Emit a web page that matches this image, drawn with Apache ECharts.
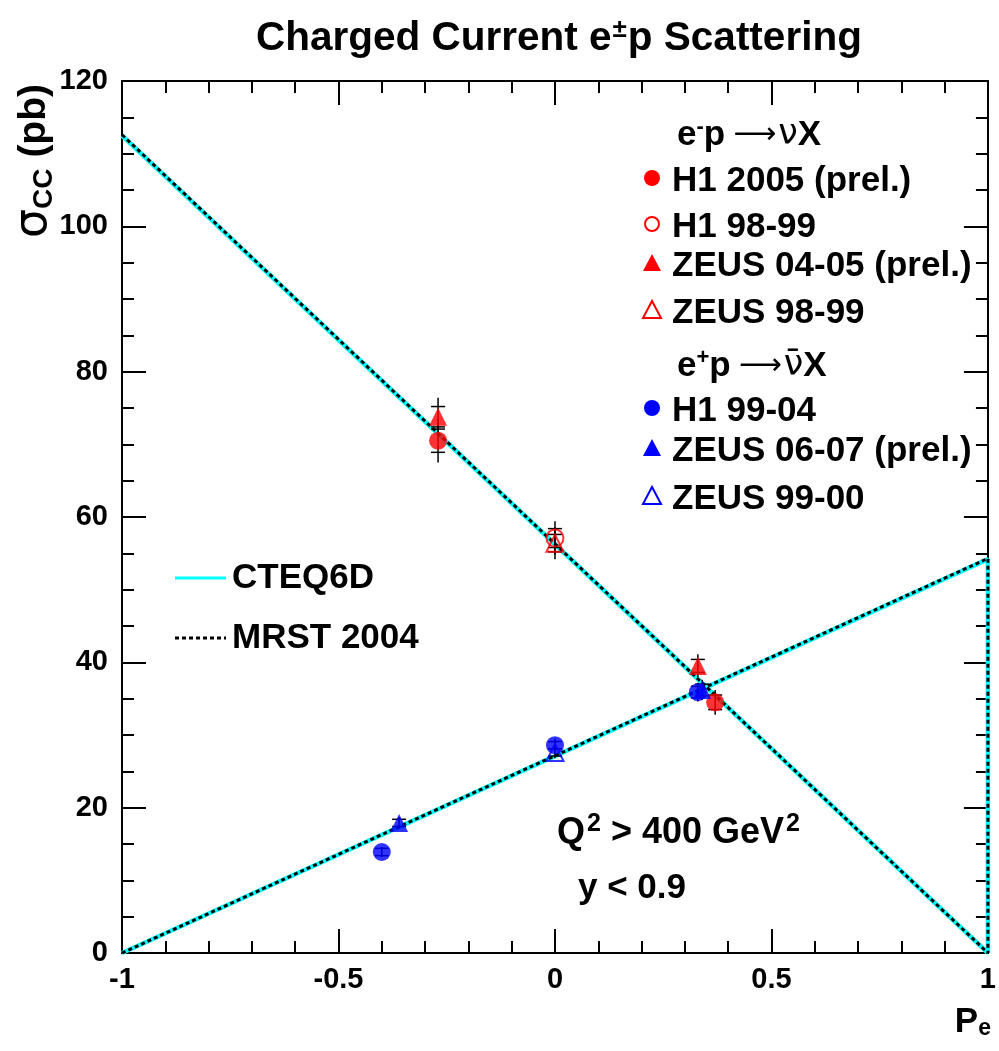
<!DOCTYPE html>
<html>
<head>
<meta charset="utf-8">
<script src="https://cdn.jsdelivr.net/npm/echarts@6/dist/echarts.min.js"></script>
<style>html,body{margin:0;padding:0;background:#fff}#c{width:999px;height:1051px}</style>
</head>
<body>
<div id="c"></div>
<script>
// ---- data ----
var xTicks = [-1, -0.5, 0, 0.5, 1];
var yTicks = [0, 20, 40, 60, 80, 100, 120];
// theory lines [Pe, sigma]
var cteqEm = [[-1, 112.5], [1, 0]];
var cteqEp = [[-1, 0], [1, 54.2], [1, 0]];
var mrstEm = [[-1, 112.6], [1, 0]];
var mrstEp = [[-1, 0], [1, 54.3], [1, 0]];
// measurements [Pe, sigma, totalErr, statErr]
var h1_2005   = [[-0.27, 70.5, 3.0, 1.6], [0.37, 34.5, 1.7, 1.0]];
var h1_9899   = [[0.0, 57.1, 2.3, 1.3]];
var zeus0405  = [[-0.27, 73.8, 2.6, 1.4], [0.33, 39.5, 1.6, 0.9]];
var zeus9899  = [[0.0, 56.4, 2.2, 1.2]];
var h1_9904   = [[-0.40, 13.9, 0.7, 0.5], [0.0, 28.6, 0.9, 0.5], [0.33, 35.9, 1.3, 0.8]];
var zeus0607  = [[-0.36, 17.9, 0.8, 0.5], [0.34, 36.2, 1.4, 0.8]];
var zeus9900  = [[0.0, 27.6, 0.8, 0.5]];

var FONT = 'Liberation Sans';
var RED = '#ff0000', BLUE = '#0000ff', CYAN = '#00ffff';

function errSeries(data) {
  return {
    type: 'custom', data: data, z: 3, silent: true,
    renderItem: function (p, api) {
      var x = api.value(0), y = api.value(1), e = api.value(2), s = api.value(3);
      var top = api.coord([x, y + e]), bot = api.coord([x, y - e]);
      var st = api.coord([x, y + s]), sb = api.coord([x, y - s]);
      var sty = {stroke: '#000', lineWidth: 1.5};
      return {type: 'group', children: [
        {type: 'line', shape: {x1: top[0], y1: top[1], x2: bot[0], y2: bot[1]}, style: sty},
        {type: 'line', shape: {x1: st[0] - 7, y1: st[1], x2: st[0] + 7, y2: st[1]}, style: sty},
        {type: 'line', shape: {x1: sb[0] - 7, y1: sb[1], x2: sb[0] + 7, y2: sb[1]}, style: sty}
      ]};
    }
  };
}
function pts(name, data, symbol, color, open, size) {
  return {
    name: name, type: 'scatter', data: data, symbol: symbol, symbolSize: size, z: 5,
    itemStyle: open ? {color: 'rgba(0,0,0,0)', borderColor: color, borderWidth: 2} : {color: color}
  };
}
function lineS(name, data, color, width, dash, z) {
  return {name: name, type: 'line', data: data, showSymbol: false, symbol: 'none', z: z, silent: true,
    lineStyle: {color: color, width: width, type: dash || 'solid'}};
}

var chart = echarts.init(document.getElementById('c'));

var axisCommon = {
  axisLine: {show: true, onZero: false, lineStyle: {color: '#000', width: 2}},
  splitLine: {show: false}
};

var LF = 35;
var legendItems = [
  {sym: 'circle', color: RED, open: false, text: 'H1 2005 (prel.)', y: 181},
  {sym: 'circle', color: RED, open: true, text: 'H1 98-99', y: 227},
  {sym: 'triangle', color: RED, open: false, text: 'ZEUS 04-05 (prel.)', y: 266},
  {sym: 'triangle', color: RED, open: true, text: 'ZEUS 98-99', y: 313},
  {sym: 'circle', color: BLUE, open: false, text: 'H1 99-04', y: 411},
  {sym: 'triangle', color: BLUE, open: false, text: 'ZEUS 06-07 (prel.)', y: 451},
  {sym: 'triangle', color: BLUE, open: true, text: 'ZEUS 99-00', y: 499}
];
var graphics = [];
legendItems.forEach(function (it) {
  var st = it.open ? {fill: 'none', stroke: it.color, lineWidth: 2} : {fill: it.color};
  if (it.sym === 'circle') {
    graphics.push({type: 'circle', shape: {cx: 652, cy: it.y - 3, r: it.open ? 7 : 8}, style: st});
  } else {
    graphics.push({type: 'polygon', shape: {points: [[652, it.y - 12], [643, it.y + 5], [661, it.y + 5]]}, style: st});
  }
  graphics.push({type: 'text', x: 672, y: it.y, style: {text: it.text, font: 'bold ' + LF + 'px ' + FONT, fill: '#000', verticalAlign: 'middle'}});
});
var richBase = {
  a: {fontFamily: FONT, fontWeight: 'bold', fontSize: LF, color: '#000'},
  sup: {fontFamily: FONT, fontWeight: 'bold', fontSize: 22, color: '#000', verticalAlign: 'top', padding: [0, 0, 16, 0]},
  g: {fontFamily: 'DejaVu Sans', fontSize: 35, color: '#000'},
  ar: {fontFamily: 'DejaVu Sans', fontSize: 30, color: '#000', padding: [0, 2, 0, 8]}
};
graphics.push({type: 'text', x: 677, y: 135, style: {text: '{a|e}{sup|-}{a|p}{ar|⟶}{g|ν}{a|X}', rich: richBase, verticalAlign: 'middle'}});
graphics.push({type: 'text', x: 677, y: 366, style: {text: '{a|e}{sup|+}{a|p}{ar|⟶}{g|ν̄}{a|X}', rich: richBase, verticalAlign: 'middle'}});
// theory legend
graphics.push({type: 'line', shape: {x1: 175, y1: 578, x2: 226, y2: 578}, style: {stroke: CYAN, lineWidth: 3}});
graphics.push({type: 'text', x: 232, y: 578, style: {text: 'CTEQ6D', font: 'bold ' + LF + 'px ' + FONT, fill: '#000', verticalAlign: 'middle'}});
graphics.push({type: 'line', shape: {x1: 175, y1: 638, x2: 226, y2: 638}, style: {stroke: '#000', lineWidth: 3, lineDash: [4, 3]}});
graphics.push({type: 'text', x: 232, y: 638, style: {text: 'MRST 2004', font: 'bold ' + LF + 'px ' + FONT, fill: '#000', verticalAlign: 'middle'}});
// cuts
graphics.push({type: 'text', x: 557, y: 833, style: {text: '{a|Q}{sup|2}{a| > 400 GeV}{sup|2}', rich: {
  a: {fontFamily: FONT, fontWeight: 'bold', fontSize: 36, color: '#000'},
  sup: {fontFamily: FONT, fontWeight: 'bold', fontSize: 25, color: '#000', padding: [0, 0, 18, 2]}
}, verticalAlign: 'middle'}});
graphics.push({type: 'text', x: 578, y: 888, style: {text: 'y < 0.9', font: 'bold ' + LF + 'px ' + FONT, fill: '#000', verticalAlign: 'middle'}});
// axis titles
graphics.push({type: 'text', x: 34, y: 84, rotation: Math.PI / 2, style: {
  text: '{s|σ}{sub|CC}{n| (pb)}', align: 'right', verticalAlign: 'middle',
  rich: {
    s: {fontFamily: 'DejaVu Sans', fontSize: 46, color: '#000'},
    sub: {fontFamily: FONT, fontSize: 28, fontWeight: 'bold', color: '#000', verticalAlign: 'bottom', padding: [20, 0, 0, 0]},
    n: {fontFamily: FONT, fontSize: 39, fontWeight: 'bold', color: '#000'}
  }}});
graphics.push({type: 'text', x: 991, y: 1022, style: {
  text: '{p|P}{sub|e}', align: 'right', verticalAlign: 'middle',
  rich: {
    p: {fontFamily: FONT, fontSize: 35, fontWeight: 'bold', color: '#000'},
    sub: {fontFamily: FONT, fontSize: 23, fontWeight: 'bold', color: '#000', verticalAlign: 'bottom', padding: [14, 0, 0, 0]}
  }}});

var option = {
  backgroundColor: '#fff',
  animation: false,
  title: {
    text: '{a|Charged Current e}{sup|±}{a|p Scattering}',
    left: 251, top: 12,
    textStyle: {rich: {
      a: {fontFamily: FONT, fontWeight: 'bold', fontSize: 40.5, color: '#000'},
      sup: {fontFamily: FONT, fontWeight: 'bold', fontSize: 26, color: '#000', padding: [0, 1, 18, 1]}
    }}
  },
  grid: {left: 122, top: 81, width: 870, height: 872, containLabel: false},
  xAxis: [
    Object.assign({type: 'value', min: -1, max: 1, interval: 0.5, position: 'bottom',
      axisTick: {show: true, inside: true, length: 24, lineStyle: {color: '#000', width: 2}},
      minorTick: {show: true, splitNumber: 5, length: 12, lineStyle: {color: '#000', width: 2}},
      axisLabel: {show: true, margin: 12, fontFamily: FONT, fontWeight: 'bold', fontSize: 29, color: '#000',
        formatter: function (v) { return xTicks.indexOf(v) >= 0 ? String(v) : ''; }}
    }, axisCommon),
    Object.assign({type: 'value', min: -1, max: 1, interval: 0.5, position: 'top',
      axisTick: {show: true, inside: true, length: 24, lineStyle: {color: '#000', width: 2}},
      minorTick: {show: true, splitNumber: 5, length: 12, lineStyle: {color: '#000', width: 2}},
      axisLabel: {show: false}
    }, axisCommon)
  ],
  yAxis: [
    Object.assign({type: 'value', min: 0, max: 120, interval: 20, position: 'left',
      axisTick: {show: true, inside: true, length: 24, lineStyle: {color: '#000', width: 2}},
      minorTick: {show: true, splitNumber: 4, length: 12, lineStyle: {color: '#000', width: 2}},
      axisLabel: {show: true, margin: 14, fontFamily: FONT, fontWeight: 'bold', fontSize: 29, color: '#000',
        formatter: function (v) { return yTicks.indexOf(v) >= 0 ? String(v) : ''; }}
    }, axisCommon),
    Object.assign({type: 'value', min: 0, max: 120, interval: 20, position: 'right',
      axisTick: {show: true, inside: true, length: 24, lineStyle: {color: '#000', width: 2}},
      minorTick: {show: true, splitNumber: 4, length: 12, lineStyle: {color: '#000', width: 2}},
      axisLabel: {show: false}
    }, axisCommon)
  ],
  series: [
    lineS('CTEQ6D', cteqEm, CYAN, 4.5, 'solid', 1),
    lineS('CTEQ6D e+', cteqEp, CYAN, 4.5, 'solid', 1),
    lineS('MRST 2004', mrstEm, '#000', 3, [4, 3], 2),
    lineS('MRST 2004 e+', mrstEp, '#000', 3, [4, 3], 2),
    errSeries(h1_2005), errSeries(h1_9899), errSeries(zeus0405), errSeries(zeus9899),
    errSeries(h1_9904), errSeries(zeus0607), errSeries(zeus9900),
    pts('H1 2005 (prel.)', h1_2005, 'circle', RED, false, 18),
    pts('H1 98-99', h1_9899, 'circle', RED, true, 17),
    pts('ZEUS 04-05 (prel.)', zeus0405, 'triangle', RED, false, 18),
    pts('ZEUS 98-99', zeus9899, 'triangle', RED, true, 17),
    pts('H1 99-04', h1_9904, 'circle', BLUE, false, 18),
    pts('ZEUS 06-07 (prel.)', zeus0607, 'triangle', BLUE, false, 18),
    pts('ZEUS 99-00', zeus9900, 'triangle', BLUE, true, 17)
  ],
  graphic: graphics
};
chart.setOption(option);
</script>
</body>
</html>
